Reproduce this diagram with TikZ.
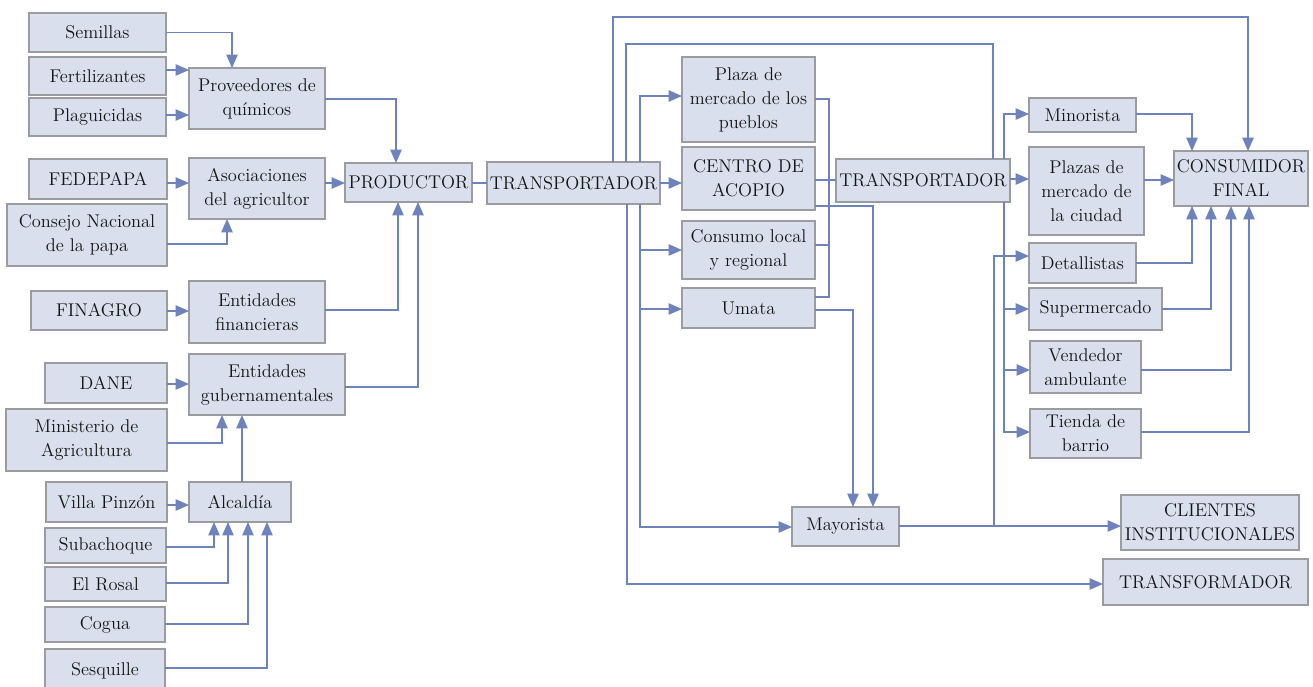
\documentclass[tikz,border=0pt]{standalone}
\usetikzlibrary{arrows.meta}
\definecolor{boxfill}{RGB}{218,223,237}
\definecolor{boxline}{RGB}{155,155,160}
\definecolor{linec}{RGB}{110,131,187}
\definecolor{txt}{RGB}{20,20,20}
\tikzset{
  box/.style={draw=boxline, fill=boxfill, line width=0.9pt, inner sep=0pt, outer sep=0pt,
    align=center, text=txt, font=\fontsize{13.8}{18}\selectfont},
  ln/.style={draw=linec, line width=1pt},
  arr/.style={ln, -{Triangle[length=10pt,width=8.5pt]}}
}
\newcommand\mybox[6]{\node[box, minimum width={(#4-#2)*0.75pt}, minimum height={(#5-#3)*0.75pt}]
  (#1) at ({(#2+#4)/2},{(#3+#5)/2}) {#6};}
\begin{document}
\begin{tikzpicture}[x=0.75pt,y=-0.75pt]
\useasboundingbox (0,0) rectangle (1313,686);
\clip (0,0) rectangle (1313,686);
% left side
\mybox{sem}{29}{13}{166}{52}{Semillas}
\mybox{fer}{29}{57}{166}{95}{Fertilizantes}
\mybox{pla}{29}{98}{166}{136}{Plaguicidas}
\mybox{prov}{189}{68}{325}{129}{Proveedores de\\químicos}
\mybox{fed}{29}{159}{167}{199}{FEDEPAPA}
\mybox{aso}{189}{158}{325}{219}{Asociaciones\\del agricultor}
\mybox{con}{7}{204}{167}{266}{Consejo Nacional\\de la papa}
\mybox{prod}{345}{163}{472}{202}{PRODUCTOR}
\mybox{fin}{31}{291}{167}{330}{FINAGRO}
\mybox{efi}{189}{281}{325}{343}{Entidades\\financieras}
\mybox{dane}{45}{363}{167}{403}{DANE}
\mybox{egu}{189}{354}{345}{415}{Entidades\\gubernamentales}
\mybox{min}{6}{409}{167}{471}{Ministerio de\\Agricultura}
\mybox{alc}{189}{482}{291}{522}{Alcaldía}
\mybox{vil}{46}{482}{167}{522}{Villa Pinzón}
\mybox{sub}{45}{528}{166}{563}{Subachoque}
\mybox{ros}{45}{567}{166}{601}{El Rosal}
\mybox{cog}{45}{607}{165}{642}{Cogua}
\mybox{ses}{45}{649}{165}{692}{Sesquille}
% middle
\mybox{t1}{487}{162}{660}{204}{TRANSPORTADOR}
\mybox{plz}{682}{57}{815}{142}{Plaza de\\mercado de los\\pueblos}
\mybox{cen}{682}{147}{815}{210}{CENTRO DE\\ACOPIO}
\mybox{cons}{682}{221}{815}{279}{Consumo local\\y regional}
\mybox{uma}{682}{288}{815}{328}{Umata}
\mybox{may}{792}{507}{899}{546}{Mayorista}
% right
\mybox{t2}{836}{159}{1010}{202}{TRANSPORTADOR}
\mybox{mino}{1029}{98}{1136}{132}{Minorista}
\mybox{plc}{1029}{147}{1144}{235}{Plazas de\\mercado de\\la ciudad}
\mybox{cf}{1174}{151}{1308}{206}{CONSUMIDOR\\FINAL}
\mybox{det}{1029}{243}{1136}{283}{Detallistas}
\mybox{sup}{1029}{288}{1162}{330}{Supermercado}
\mybox{ven}{1030}{341}{1141}{393}{Vendedor\\ambulante}
\mybox{tie}{1030}{409}{1141}{458}{Tienda de\\barrio}
\mybox{cli}{1121}{495}{1299}{550}{CLIENTES\\INSTITUCIONALES}
\mybox{tra}{1103}{559}{1308}{605}{TRANSFORMADOR}

% left connectors
\draw[arr] (sem.east) -| (prov.north -| 232,0);
\draw[arr] (fer.east |- 0,70) -- (prov.west |- 0,70);
\draw[arr] (pla.east |- 0,115) -- (prov.west |- 0,115);
\draw[arr] (prov.east |- 0,99) -| (prod.north -| 396,0);
\draw[arr] (fed.east |- 0,183) -- (aso.west |- 0,183);
\draw[arr] (aso.east |- 0,183) -- (prod.west |- 0,183);
\draw[arr] (con.east |- 0,244) -| (aso.south -| 227,0);
\draw[arr] (fin.east |- 0,311) -- (efi.west |- 0,311);
\draw[arr] (efi.east |- 0,310) -| (prod.south -| 398,0);
\draw[arr] (egu.east |- 0,387) -| (prod.south -| 418,0);
\draw[arr] (dane.east |- 0,384) -- (egu.west |- 0,384);
\draw[arr] (min.east |- 0,443) -| (egu.south -| 222,0);
\draw[arr] (alc.north -| 242,0) -- (egu.south -| 242,0);
\draw[arr] (vil.east |- 0,505) -- (alc.west |- 0,505);
\draw[arr] (sub.east |- 0,547) -| (alc.south -| 214,0);
\draw[arr] (ros.east |- 0,583) -| (alc.south -| 228,0);
\draw[arr] (cog.east |- 0,624) -| (alc.south -| 248,0);
\draw[arr] (ses.east |- 0,668) -| (alc.south -| 267,0);

% middle connectors
\draw[ln] (prod.east |- 0,183) -- (t1.west |- 0,183);
\draw[arr] (t1.east |- 0,183) -- (cen.west |- 0,183);
\draw[arr] (t1.north -| 640,0) |- (plz.west |- 0,96);
\draw[arr] (t1.south -| 640,0) |- (cons.west |- 0,250);
\draw[arr] (t1.south -| 640,0) |- (uma.west |- 0,309);
\draw[arr] (t1.south -| 640,0) |- (may.west |- 0,527);
\draw[arr] (t1.south -| 627,0) |- (tra.west |- 0,584);
\coordinate (topA) at (626,44);
\coordinate (topB) at (613,17);
\draw[ln] (t1.north -| topA) -- (topA) -| (t2.north -| 993,0);
\draw[arr] (t1.north -| topB) -- (topB) -| (cf.north -| 1248,0);
\coordinate (colTop) at (829,99);
\coordinate (colBot) at (829,297);
\draw[ln] (plz.east |- colTop) -- (colTop) -- (colBot) -- (uma.east |- colBot);
\draw[ln] (cons.east |- 0,245) -- (colTop |- 0,245);
\draw[ln] (cen.east |- 0,180) -- (t2.west |- 0,180);
\draw[arr] (cen.east |- 0,206) -| (may.north -| 873,0);
\draw[arr] (uma.east |- 0,310) -| (may.north -| 853,0);
\draw[arr] (may.east |- 0,526) -- (cli.west |- 0,526);
\coordinate (br) at (994,526);
\draw[arr] (br) |- (det.west |- 0,256);

% right connectors
\draw[arr] (t2.north -| 1004,0) |- (mino.west |- 0,114);
\draw[arr] (t2.east |- 0,179) -- (plc.west |- 0,179);
\draw[arr] (t2.south -| 1004,0) |- (sup.west |- 0,309);
\draw[arr] (t2.south -| 1004,0) |- (ven.west |- 0,370);
\draw[arr] (t2.south -| 1004,0) |- (tie.west |- 0,432);
\draw[arr] (mino.east |- 0,114) -| (cf.north -| 1192,0);
\draw[arr] (plc.east |- 0,180) -- (cf.west |- 0,180);
\draw[arr] (det.east |- 0,263) -| (cf.south -| 1192,0);
\draw[arr] (sup.east |- 0,309) -| (cf.south -| 1211,0);
\draw[arr] (ven.east |- 0,370) -| (cf.south -| 1231,0);
\draw[arr] (tie.east |- 0,432) -| (cf.south -| 1249,0);
\end{tikzpicture}
\end{document}
